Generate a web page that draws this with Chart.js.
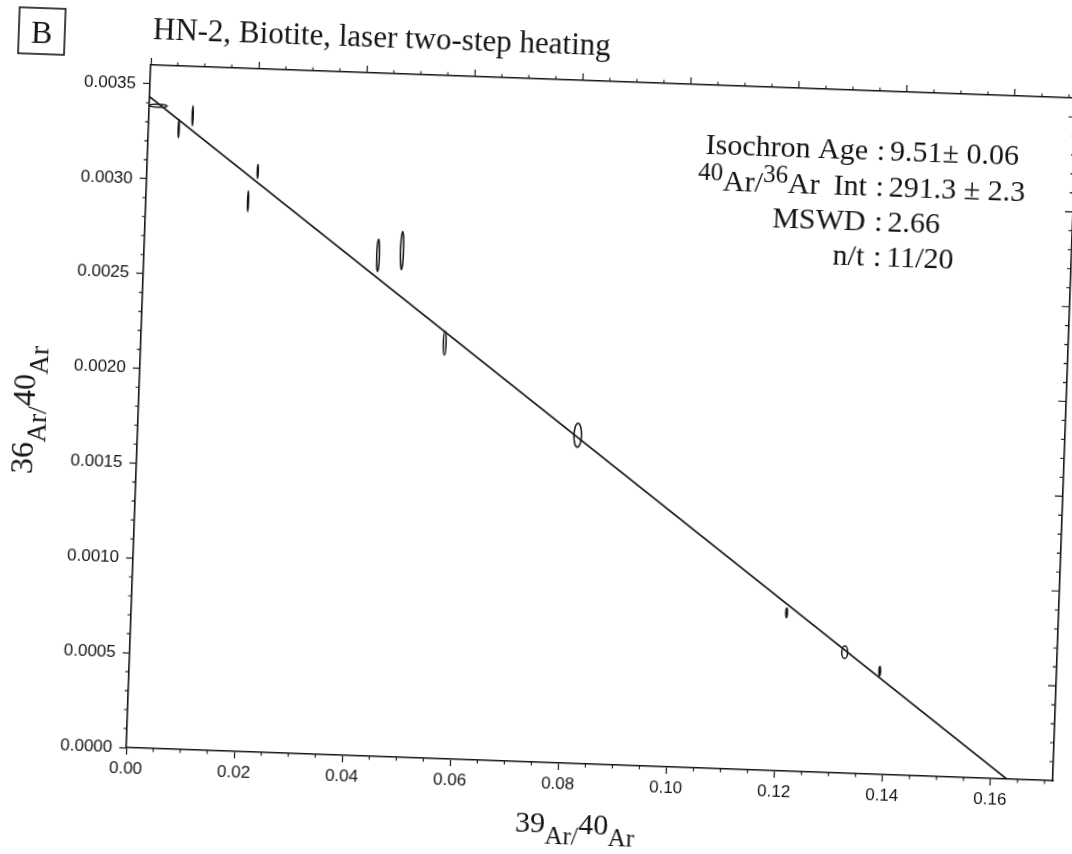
<!DOCTYPE html>
<html>
<head>
<meta charset="utf-8">
<script src="https://cdn.jsdelivr.net/npm/chart.js@4.4.1/dist/chart.umd.min.js"></script>
<style>
  html, body { margin: 0; padding: 0; background: #fff; overflow: hidden; }
  /* the scanned figure sits a little crooked on the page */
  #isoChart { display: block; transform: rotate(2.05deg); transform-origin: 536px 427px; }
</style>
</head>
<body>
<canvas id="isoChart" width="1072" height="854"></canvas>
<script>
// heating steps: 39Ar/40Ar, 36Ar/40Ar and their 1-sigma errors
var stepX = [0.0017, 0.0056, 0.0081, 0.0205, 0.0189, 0.0433, 0.0477, 0.0562, 0.0814, 0.1212, 0.1322, 0.1388];
var stepY = [0.003387, 0.00327, 0.00334, 0.00306, 0.00290, 0.00264, 0.00267, 0.00219, 0.00173, 0.000834, 0.000638, 0.000544];
var errX = [0.0016, 0.00008, 0.00008, 0.00008, 0.00008, 0.00025, 0.00028, 0.00025, 0.0007, 0.00015, 0.00055, 0.00015];
var errY = [0.000008, 0.000048, 0.000053, 0.000037, 0.000055, 0.000085, 0.0001, 0.000063, 0.000063, 0.000025, 0.000033, 0.000025];
var filledStep = [false, false, false, false, false, false, false, false, false, true, false, true];

// isochron line, from the 36Ar/40Ar intercept to the 39Ar/40Ar intercept
var fitX = [0, 0.163];
var fitY = [0.003433, 0];

var xTickValues = [0, 0.02, 0.04, 0.06, 0.08, 0.10, 0.12, 0.14, 0.16];
var xTickLabels = ["0.00", "0.02", "0.04", "0.06", "0.08", "0.10", "0.12", "0.14", "0.16"];
var yTickValues = [0, 0.0005, 0.0010, 0.0015, 0.0020, 0.0025, 0.0030, 0.0035];
var yTickLabels = ["0.0000", "0.0005", "0.0010", "0.0015", "0.0020", "0.0025", "0.0030", "0.0035"];

var statLabels = ["Isochron Age", "Int", "MSWD", "n/t"];
var statValues = ["9.51\u00b1 0.06", "291.3 \u00b1 2.3", "2.66", "11/20"];
var titleText = "HN-2, Biotite, laser two-step heating";
var panelLetter = "B";

var xMax = 0.1715, yMax = 0.0036;
var ink = "#141414";
var serif = "'Liberation Serif', 'Times New Roman', serif";

// text with raised isotope numbers, e.g. 39Ar/40Ar
function drawIsotopes(ctx, parts, x, y, big, small, lift) {
  var w = 0;
  parts.forEach(function (p) {
    ctx.font = (p.sup ? big : small) + "px " + serif;
    w += ctx.measureText(p.t).width;
  });
  var cx = x - w / 2;
  parts.forEach(function (p) {
    ctx.font = (p.sup ? big : small) + "px " + serif;
    ctx.fillText(p.t, cx, p.sup ? y - lift : y);
    cx += ctx.measureText(p.t).width;
  });
  return w;
}

var ellipses = {
  id: "ellipses",
  afterDatasetsDraw: function (chart) {
    var ctx = chart.ctx, sx = chart.scales.x, sy = chart.scales.y;
    ctx.save();
    ctx.strokeStyle = ink;
    ctx.fillStyle = ink;
    ctx.lineWidth = 1.5;
    for (var i = 0; i < stepX.length; i++) {
      var cx = sx.getPixelForValue(stepX[i]);
      var cy = sy.getPixelForValue(stepY[i]);
      var rx = Math.max(Math.abs(sx.getPixelForValue(stepX[i] + errX[i]) - cx), 0.5);
      var ry = Math.max(Math.abs(sy.getPixelForValue(stepY[i] + errY[i]) - cy), 0.5);
      ctx.beginPath();
      ctx.ellipse(cx, cy, rx, ry, 0, 0, Math.PI * 2);
      if (filledStep[i]) ctx.fill();
      ctx.stroke();
    }
    ctx.restore();
  }
};

var minorTicks = {
  id: "minorTicks",
  afterDraw: function (chart) {
    var ctx = chart.ctx, a = chart.chartArea, sx = chart.scales.x, sy = chart.scales.y;
    ctx.save();
    ctx.strokeStyle = ink;
    ctx.lineWidth = 1.1;
    ctx.beginPath();
    for (var i = 1; i * 0.005 <= xMax; i++) {
      if (i % 4 === 0) continue;
      var px = sx.getPixelForValue(i * 0.005);
      ctx.moveTo(px, a.bottom); ctx.lineTo(px, a.bottom + 3.5);
      ctx.moveTo(px, a.top); ctx.lineTo(px, a.top - 3.5);
    }
    for (var j = 1; j * 0.0001 < yMax; j++) {
      var py = sy.getPixelForValue(j * 0.0001);
      var major = j % 5 === 0;
      if (!major) { ctx.moveTo(a.left, py); ctx.lineTo(a.left - 3.5, py); }
      ctx.moveTo(a.right, py); ctx.lineTo(a.right - (major ? 8 : 4), py);
    }
    ctx.stroke();
    ctx.restore();
  }
};

var labels = {
  id: "labels",
  afterDraw: function (chart) {
    var ctx = chart.ctx;
    ctx.save();
    ctx.fillStyle = ink;
    ctx.strokeStyle = ink;
    ctx.textBaseline = "alphabetic";

    // panel letter in its box
    ctx.lineWidth = 1.6;
    ctx.strokeRect(5, 26, 46, 46);
    ctx.font = "32px " + serif;
    ctx.textAlign = "center";
    ctx.fillText(panelLetter, 28, 61);

    ctx.textAlign = "left";
    ctx.font = "31px " + serif;
    ctx.fillText(titleText, 139, 53);

    // fit statistics, colons lined up
    var colonX = 871, base = [148, 184, 219, 254];
    ctx.font = "30px " + serif;
    for (var i = 0; i < statLabels.length; i++) {
      ctx.textAlign = "right";
      ctx.fillText(statLabels[i], colonX - 13, base[i]);
      ctx.textAlign = "center";
      ctx.fillText(":", colonX, base[i]);
      ctx.textAlign = "left";
      ctx.fillText(statValues[i], colonX + 9, base[i]);
    }
    // 40Ar/36Ar before "Int"
    ctx.textAlign = "left";
    ctx.font = "30px " + serif;
    var intW = ctx.measureText("Int").width;
    var parts = [{ t: "40", sup: true }, { t: "Ar/" }, { t: "36", sup: true }, { t: "Ar" }];
    var w = 0;
    parts.forEach(function (p) {
      ctx.font = (p.sup ? 25 : 30) + "px " + serif;
      w += ctx.measureText(p.t).width;
    });
    drawIsotopes(ctx, parts, colonX - 13 - intW - 14 - w / 2, base[1], 25, 30, 10);

    // axis titles
    drawIsotopes(ctx, [{ t: "39", sup: true }, { t: "Ar/" }, { t: "40", sup: true }, { t: "Ar" }],
      589, 843, 30, 25, 11);
    ctx.translate(46, 428);
    ctx.rotate(-Math.PI / 2);
    drawIsotopes(ctx, [{ t: "36", sup: true }, { t: "Ar/" }, { t: "40", sup: true }, { t: "Ar" }],
      0, 0, 32, 27, 12);
    ctx.restore();
  }
};

var whiteBg = {
  id: "whiteBg",
  beforeDraw: function (chart) {
    var ctx = chart.ctx;
    ctx.save();
    ctx.fillStyle = "#fff";
    ctx.fillRect(0, 0, chart.width, chart.height);
    ctx.restore();
  }
};

var tickFont = { family: "'Liberation Sans', Arial, sans-serif", size: 17 };

var ctx = document.getElementById("isoChart").getContext("2d");
var isoChart = new Chart(ctx, {
  type: "scatter",
  data: {
    datasets: [
      {
        label: "isochron",
        data: fitX.map(function (v, i) { return { x: v, y: fitY[i] }; }),
        showLine: true,
        borderColor: ink,
        borderWidth: 1.6,
        pointRadius: 0
      },
      {
        label: "steps",
        data: stepX.map(function (v, i) { return { x: v, y: stepY[i] }; }),
        pointRadius: 0,
        pointHoverRadius: 0
      }
    ]
  },
  options: {
    responsive: false,
    animation: false,
    events: [],
    layout: { padding: 0 },
    plugins: { legend: { display: false }, tooltip: { enabled: false } },
    scales: {
      x: {
        type: "linear", position: "bottom", min: 0, max: xMax,
        afterBuildTicks: function (s) { s.ticks = xTickValues.map(function (v) { return { value: v }; }); },
        ticks: {
          callback: function (v, i) { return xTickLabels[i]; },
          font: tickFont, color: ink, padding: 4, maxRotation: 0, autoSkip: false
        },
        grid: { drawOnChartArea: false, tickLength: 7, tickColor: ink, tickWidth: 1.2 },
        border: { color: ink, width: 1.6 },
        afterFit: function (s) { s.height = 92; }
      },
      xTop: {
        type: "linear", position: "top", min: 0, max: xMax,
        afterBuildTicks: function (s) { s.ticks = xTickValues.map(function (v) { return { value: v }; }); },
        ticks: { display: false },
        grid: { drawOnChartArea: false, tickLength: 7, tickColor: ink, tickWidth: 1.2 },
        border: { color: ink, width: 1.6 },
        afterFit: function (s) { s.height = 79; }
      },
      y: {
        type: "linear", position: "left", min: 0, max: yMax,
        afterBuildTicks: function (s) { s.ticks = yTickValues.map(function (v) { return { value: v }; }); },
        ticks: {
          callback: function (v, i) { return yTickLabels[i]; },
          font: tickFont, color: ink, padding: 7, autoSkip: false
        },
        grid: { drawOnChartArea: false, tickLength: 7, tickColor: ink, tickWidth: 1.2 },
        border: { color: ink, width: 1.6 },
        afterFit: function (s) { s.width = 138; }
      },
      yRight: {
        type: "linear", position: "right", min: 0, max: yMax,
        ticks: { display: false },
        grid: { drawOnChartArea: false, drawTicks: false },
        border: { color: ink, width: 1.6 },
        afterFit: function (s) { s.width = 7; }
      }
    }
  },
  plugins: [whiteBg, ellipses, minorTicks, labels]
});
</script>
</body>
</html>
